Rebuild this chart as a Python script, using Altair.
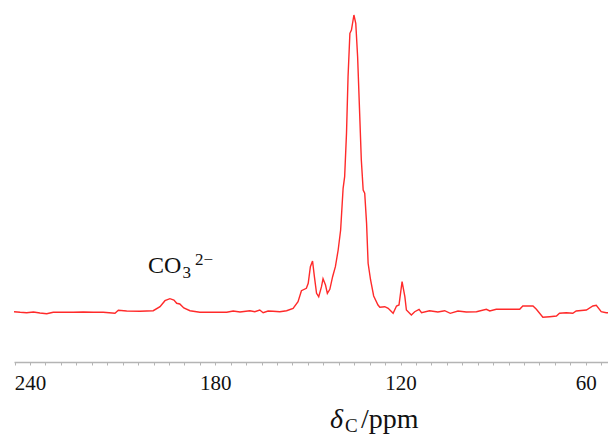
import altair as alt
import pandas as pd

# chemical shift (ppm) and intensity (a.u.)
ppm = [245.2, 243.2, 241.1, 238.9, 236.8, 234.6, 232.5, 229.2, 226.0, 222.8,
       219.5, 216.3, 212.5, 211.4, 208.7, 204.4, 200.1, 197.9, 196.3, 194.7,
       193.4, 192.5, 191.5, 190.2, 188.2, 185.0, 180.7, 176.3, 174.2, 172.0,
       168.8, 167.2, 165.6, 164.5, 162.9, 161.3, 159.1, 156.9, 154.8, 153.2,
       152.1, 150.5, 149.9, 149.2, 148.5, 147.9, 147.2, 146.5, 145.6, 145.1,
       144.3, 143.7, 142.9, 142.0, 141.1, 140.2, 139.4, 138.6, 138.1, 137.5,
       137.0, 136.4, 135.9, 135.1, 134.5, 133.9, 133.2, 132.7, 132.1, 131.6,
       131.0, 130.5, 129.7, 128.7, 127.3, 126.7, 125.1, 124.0, 122.4, 121.3,
       120.5, 119.5, 118.6, 118.1, 116.5, 115.4, 114.0, 113.2, 110.6, 107.9,
       105.7, 103.9, 101.4, 98.7, 95.4, 92.2, 91.1, 89.0, 85.7, 81.4,
       80.4, 77.1, 76.0, 73.9, 71.7, 69.5, 68.5, 66.3, 64.2, 63.1,
       59.8, 57.7, 56.6, 55.0, 53.4, 50.4]
intensity = [50.3, 49.7, 49.3, 50.0, 49.0, 48.3, 49.7, 49.7, 49.7, 50.0,
             49.7, 49.7, 48.7, 51.7, 51.0, 50.7, 51.3, 55.3, 61.3, 63.3,
             62.0, 58.7, 58.0, 54.0, 51.3, 49.7, 49.7, 49.7, 51.0, 50.0,
             51.3, 50.3, 52.0, 49.3, 51.0, 50.7, 50.3, 51.3, 53.7, 60.3,
             71.3, 73.7, 78.7, 95.3, 101.0, 85.3, 68.7, 65.3, 75.3, 83.3,
             77.0, 68.7, 72.7, 85.3, 95.3, 112.0, 132.0, 173.7, 185.3, 228.7,
             285.3, 328.7, 332.0, 347.0, 338.7, 305.3, 245.3, 202.0, 172.0, 168.7,
             138.7, 98.7, 82.0, 66.0, 57.0, 54.7, 55.3, 53.7, 48.7, 56.0,
             57.0, 80.3, 65.3, 52.0, 47.0, 50.3, 52.7, 49.3, 51.3, 50.0,
             51.3, 48.7, 51.0, 50.0, 50.3, 52.7, 51.0, 52.7, 52.7, 52.7,
             56.0, 56.0, 52.7, 44.7, 45.3, 46.0, 48.7, 49.3, 48.7, 51.0,
             52.0, 56.0, 56.7, 50.3, 49.3, 49.3]

tick_values = list(range(245, 50, -5))
label_values = [240, 180, 120, 60]

# carbonate annotation pieces
ann_text = ["CO", "3", "2\u2212"]
ann_ppm = [201.8, 190.6, 186.6]
ann_int = [89.3, 84.0, 97.0]
ann_size = [24, 17, 17]

W, H = 594, 349
FONT = "Liberation Serif"

spec = pd.DataFrame({"ppm": ppm, "intensity": intensity})
ann = pd.DataFrame({"t": ann_text, "ppm": ann_ppm, "i": ann_int, "s": ann_size})

xscale = alt.Scale(domain=[52.8, 245.2], reverse=True, nice=False, zero=False)
yscale = alt.Scale(domain=[0, 349], nice=False, zero=False)

label_expr = "indexof(" + str(label_values) + ", datum.value) >= 0 ? datum.label : ''"

x_axis = alt.Axis(values=tick_values, labelExpr=label_expr, title=None,
                  grid=False, domainColor="#b4b4b4", domainWidth=1.6,
                  tickColor="#b4b4b4", tickWidth=1, tickSize=3,
                  labelFont=FONT, labelFontSize=21, labelColor="#111111",
                  labelPadding=7, labelFlush=False, labelOverlap=False)

line = alt.Chart(spec).mark_line(color="#ff2a2a", strokeWidth=1.4, clip=True).encode(
    x=alt.X("ppm:Q", scale=xscale, axis=x_axis),
    y=alt.Y("intensity:Q", scale=yscale, axis=None),
)

annot = alt.Chart(ann).mark_text(font=FONT, color="#111111", align="left",
                                 baseline="alphabetic").encode(
    x=alt.X("ppm:Q", scale=xscale, axis=x_axis),
    y=alt.Y("i:Q", scale=yscale, axis=None),
    text="t:N",
    size=alt.Size("s:Q", scale=None, legend=None),
)

# axis title: δ_C/ppm
t_delta = alt.Chart(pd.DataFrame({"t": ["\u03b4"]})).mark_text(
    font=FONT, fontSize=28, fontStyle="italic", color="#111111",
    align="left", baseline="alphabetic").encode(
    text="t:N", x=alt.value(316), y=alt.value(415))
t_c = alt.Chart(pd.DataFrame({"t": ["C"]})).mark_text(
    font=FONT, fontSize=19, color="#111111", align="left",
    baseline="alphabetic").encode(text="t:N", x=alt.value(331), y=alt.value(419))
t_ppm = alt.Chart(pd.DataFrame({"t": ["/ppm"]})).mark_text(
    font=FONT, fontSize=28, color="#111111", align="left",
    baseline="alphabetic").encode(text="t:N", x=alt.value(347), y=alt.value(415))

chart = alt.layer(line, annot, t_delta, t_c, t_ppm).properties(
    width=W, height=H,
    padding={"left": 6, "top": 5, "right": 0, "bottom": 0},
).configure(background="white").configure_view(stroke=None, strokeWidth=0)

chart.save("out.html", embed_options={"renderer": "svg", "actions": False})
